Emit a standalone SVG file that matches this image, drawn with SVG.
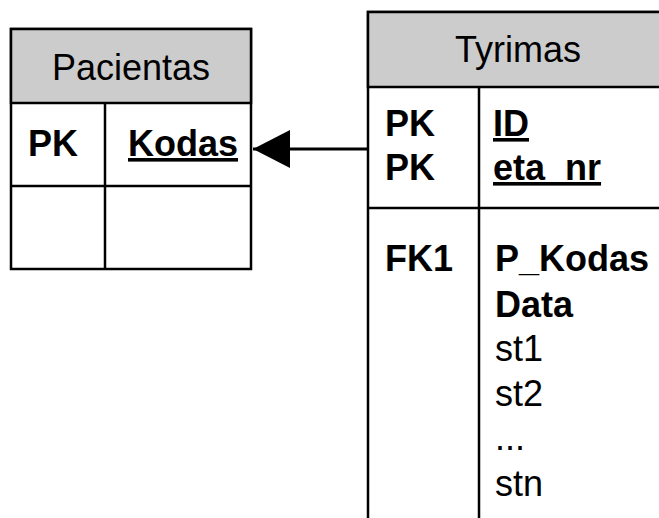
<svg xmlns="http://www.w3.org/2000/svg" width="659" height="518" viewBox="0 0 659 518">
  <style>
    .box { fill: #ffffff; stroke: #000000; stroke-width: 2.5; }
    .head { fill: #cccccc; stroke: #000000; stroke-width: 2.5; }
    .rule { stroke: #000000; stroke-width: 2.5; fill: none; }
    text { font-family: "Liberation Sans", Arial, sans-serif; font-size: 36px; fill: #000000; }
    .b { font-weight: bold; }
    .u { text-decoration: underline; }
    .title { text-anchor: middle; }
  </style>
  <defs>
    <marker id="arrow" markerUnits="userSpaceOnUse" markerWidth="40" markerHeight="40" refX="37" refY="19" orient="auto">
      <path d="M0,0 L37,19 L0,38 Z" fill="#000000"/>
    </marker>
  </defs>

  <!-- Pacientas entity -->
  <g id="pacientas">
    <rect class="box" x="11" y="29" width="240" height="240"/>
    <rect class="head" x="11" y="29" width="240" height="74"/>
    <line class="rule" x1="105" y1="103" x2="105" y2="269"/>
    <line class="rule" x1="11" y1="186" x2="251" y2="186"/>
    <text class="title" x="131" y="80">Pacientas</text>
    <text class="b" x="28" y="156">PK</text>
    <text class="b u" x="128" y="156">Kodas</text>
  </g>

  <!-- Tyrimas entity (runs past the right and bottom edges) -->
  <g id="tyrimas">
    <rect class="box" x="368" y="12" width="320" height="530"/>
    <rect class="head" x="368" y="12" width="320" height="75"/>
    <line class="rule" x1="479" y1="87" x2="479" y2="542"/>
    <line class="rule" x1="368" y1="208" x2="688" y2="208"/>
    <text class="title" x="518" y="62">Tyrimas</text>
    <text class="b" x="385" y="136">PK</text>
    <text class="b" x="385" y="180">PK</text>
    <text class="b u" x="493" y="136">ID</text>
    <text class="b u" x="493" y="180">eta_nr</text>
    <text class="b" x="385" y="271">FK1</text>
    <text class="b" x="495" y="271">P_Kodas</text>
    <text class="b" x="495" y="317">Data</text>
    <text x="495" y="361">st1</text>
    <text x="495" y="406">st2</text>
    <text x="495" y="450">...</text>
    <text x="495" y="496">stn</text>
  </g>

  <!-- relationship: Tyrimas.P_Kodas references Pacientas.Kodas -->
  <g id="connectors">
    <line x1="368" y1="149" x2="253" y2="149" stroke="#000000" stroke-width="3" marker-end="url(#arrow)"/>
  </g>
</svg>
